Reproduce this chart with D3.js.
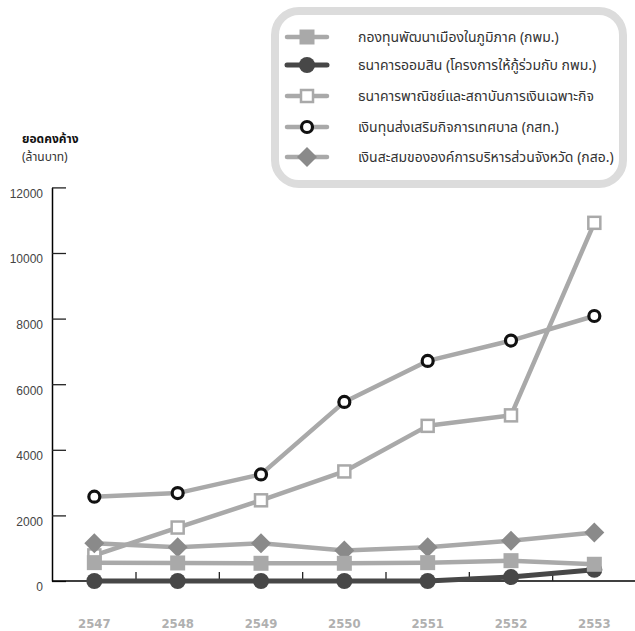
<!DOCTYPE html>
<html>
<head>
<meta charset="utf-8">
<script src="https://cdnjs.cloudflare.com/ajax/libs/d3/7.8.5/d3.min.js"></script>
<style>
html,body{margin:0;padding:0;background:#fff;}
svg{display:block;}
.thai{font-family:"Noto Sans Thai","Noto Sans","DejaVu Sans",sans-serif;}
</style>
</head>
<body>
<svg id="chart" width="635" height="631"></svg>
<script>
// ---- data ----
const years = ["2547","2548","2549","2550","2551","2552","2553"];
const seriesNames = [
  "กองทุนพัฒนาเมืองในภูมิภาค (กพม.)",
  "ธนาคารออมสิน (โครงการให้กู้ร่วมกับ กพม.)",
  "ธนาคารพาณิชย์และสถาบันการเงินเฉพาะกิจ",
  "เงินทุนส่งเสริมกิจการเทศบาล (กสท.)",
  "เงินสะสมขององค์การบริหารส่วนจังหวัด (กสอ.)"
];
const kpmValues   = [560, 550, 540, 540, 560, 620, 510];
const gsbValues   = [0, 0, 0, 0, 0, 120, 340];
const bankValues  = [780, 1630, 2460, 3340, 4730, 5050, 10920];
const kstValues   = [2570, 2680, 3250, 5460, 6710, 7330, 8080];
const ksoValues   = [1150, 1030, 1150, 930, 1030, 1230, 1480];
const yTicks = [0, 2000, 4000, 6000, 8000, 10000, 12000];
const yTitle = "ยอดคงค้าง";
const yUnit = "(ล้านบาท)";

// ---- styles (kept separate from data) ----
const styles = [
  {values: kpmValues,  line:"#a9a9a9", lw:4.5, marker:"square",  fill:"#a9a9a9", stroke:"none", sw:0, size:15},
  {values: gsbValues,  line:"#474747", lw:5,   marker:"circle",  fill:"#474747", stroke:"none", sw:0, size:8},
  {values: bankValues, line:"#a9a9a9", lw:4.5, marker:"osquare", fill:"#fff", stroke:"#a9a9a9", sw:2.5, size:12},
  {values: kstValues,  line:"#a9a9a9", lw:4.5, marker:"ocircle", fill:"#fff", stroke:"#111", sw:3.2, size:5.5},
  {values: ksoValues,  line:"#a9a9a9", lw:4.5, marker:"diamond", fill:"#8a8a8a", stroke:"none", sw:0, size:10}
];

const svg = d3.select("#chart");

const x = d3.scaleBand().domain(years).range([52.67, 636]).paddingInner(0).paddingOuter(0);
const y = d3.scaleLinear().domain([0, 12000]).range([581, 187.4]);
const cx = d => x(d) + x.bandwidth()/2;

// y axis
const yAxis = d3.axisLeft(y).tickValues(yTicks).tickFormat(d3.format("d"))
  .tickSize(-14).tickSizeOuter(0).tickPadding(9);
const gy = svg.append("g").attr("transform","translate(52,0)").call(yAxis);
gy.select(".domain").attr("stroke","#000").attr("stroke-width",1.5);
gy.selectAll(".tick line").attr("stroke","#222").attr("stroke-width",1.3);
gy.selectAll(".tick text").attr("fill","#444").attr("dy","0.83em")
  .style("font-family","'Liberation Sans',Arial,sans-serif").style("font-size","12px");

// x axis
svg.append("line").attr("x1",52).attr("x2",635).attr("y1",y(0)).attr("y2",y(0))
  .attr("stroke","#000").attr("stroke-width",1.5);
svg.selectAll(".xtick").data(years.slice(1)).enter().append("line")
  .attr("class","xtick")
  .attr("x1",d=>x(d)).attr("x2",d=>x(d)).attr("y1",y(0)).attr("y2",y(0)-9)
  .attr("stroke","#222").attr("stroke-width",1.3);
const xAxis = d3.axisBottom(x).tickSize(0).tickPadding(37.5);
const gx = svg.append("g").attr("transform",`translate(0,${y(0)})`).call(xAxis);
gx.select(".domain").remove();
gx.selectAll(".tick text").attr("fill","#b0b0b0")
  .style("font-family","'DejaVu Sans Condensed','DejaVu Sans',sans-serif")
  .style("font-weight","bold").style("font-size","13px");

// titles
svg.append("text").attr("class","thai").attr("x",22).attr("y",143)
  .attr("fill","#111").style("font-size","12px").style("font-weight","bold").text(yTitle);
svg.append("text").attr("class","thai").attr("x",22).attr("y",161)
  .attr("fill","#333").style("font-size","12px").text(yUnit);

// marker drawer
function drawMarker(g, s, px, py) {
  if (s.marker === "square" || s.marker === "osquare") {
    g.append("rect").attr("x",px - s.size/2).attr("y",py - s.size/2)
      .attr("width",s.size).attr("height",s.size)
      .attr("fill",s.fill).attr("stroke",s.stroke).attr("stroke-width",s.sw);
  } else if (s.marker === "circle" || s.marker === "ocircle") {
    g.append("circle").attr("cx",px).attr("cy",py).attr("r",s.size)
      .attr("fill",s.fill).attr("stroke",s.stroke).attr("stroke-width",s.sw);
  } else if (s.marker === "diamond") {
    const r = s.size;
    g.append("path").attr("d",`M${px},${py-r}L${px+r},${py}L${px},${py+r}L${px-r},${py}Z`)
      .attr("fill",s.fill);
  }
}

// series lines (draw order: bank, kst, kso, gsb, kpm)
const order = [2, 3, 4, 1, 0];
const line = d3.line().x((d,i)=>cx(years[i])).y(d=>y(d));
order.forEach(k => {
  const s = styles[k];
  const g = svg.append("g");
  g.append("path").attr("d", line(s.values)).attr("fill","none")
    .attr("stroke", s.line).attr("stroke-width", s.lw).attr("stroke-linejoin","round");
  s.values.forEach((v,i) => drawMarker(g, s, cx(years[i]), y(v)));
});

// legend
svg.append("rect").attr("x",275).attr("y",11).attr("width",348).attr("height",173)
  .attr("rx",24).attr("ry",24).attr("fill","#fff").attr("stroke","#dcdcdc").attr("stroke-width",8);
const legendY = [37, 65, 96, 127, 157];
seriesNames.forEach((name, k) => {
  const s = styles[k];
  const g = svg.append("g");
  const ly = legendY[k];
  g.append("line").attr("x1",287).attr("x2",327).attr("y1",ly).attr("y2",ly)
    .attr("stroke",s.line).attr("stroke-width",s.lw).attr("stroke-linecap","round");
  drawMarker(g, s, 307, ly);
  g.append("text").attr("class","thai").attr("x",358).attr("y",ly+5)
    .attr("fill","#333").style("font-size","14px").text(name);
});
</script>
</body>
</html>
